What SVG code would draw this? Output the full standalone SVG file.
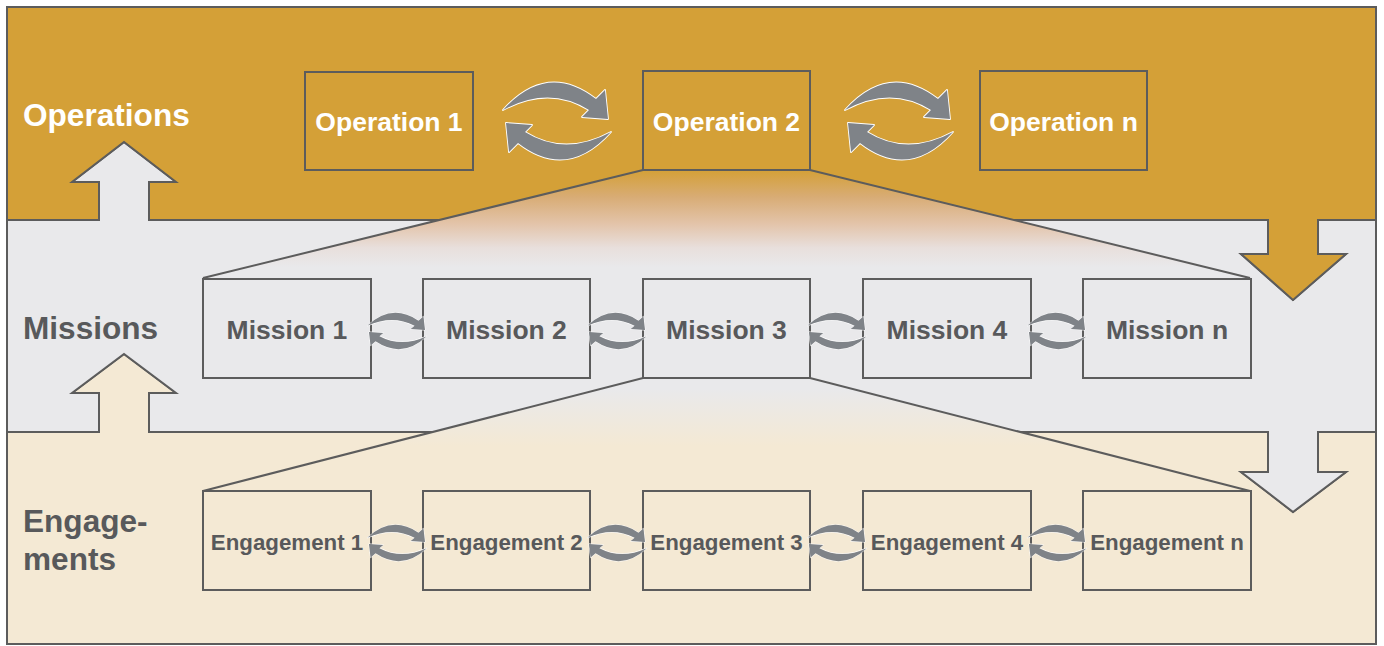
<svg xmlns="http://www.w3.org/2000/svg" width="1384" height="646" viewBox="0 0 1384 646">
  <style>
    .band { stroke: #5c5c5c; stroke-width: 2; stroke-linejoin: miter; }
    .ops { fill: #d4a037; }
    .mis { fill: #e9e9eb; }
    .eng { fill: #f4e9d4; }
    .box { stroke: #5c5c5c; stroke-width: 2; }
    .fan { stroke: #5c5c5c; stroke-width: 2; fill: none; }
    .lbl { font-family: "Liberation Sans", Arial, sans-serif; font-weight: bold; }
    .white { fill: #ffffff; }
    .grey { fill: #58595b; }
    .cyc { fill: #7f8388; stroke: #ffffff; stroke-width: 1.8; stroke-linejoin: round; paint-order: stroke; }
  </style>
  <defs>
    <linearGradient id="fadeTop" x1="0" y1="170" x2="0" y2="278" gradientUnits="userSpaceOnUse">
      <stop offset="0" stop-color="#d4a037"/>
      <stop offset="0.25" stop-color="#d8ac75"/>
      <stop offset="0.5" stop-color="#e3c4aa"/>
      <stop offset="0.72" stop-color="#e8dfdc"/>
      <stop offset="0.9" stop-color="#e9e9eb"/>
    </linearGradient>
    <linearGradient id="fadeBottom" x1="0" y1="378" x2="0" y2="491" gradientUnits="userSpaceOnUse">
      <stop offset="0.1" stop-color="#e9e9eb"/>
      <stop offset="0.6" stop-color="#f4e9d4"/>
    </linearGradient>
    <!-- one half of a cycle: curved arrow running clockwise over the top -->
    <path id="halfCycle" d="M -54,-11 Q -10,-60 39,-22 L 48,-31 L 51,-2 L 25,-4 L 32,-11 Q -8,-36 -54,-11 Z"/>
    <g id="cycle">
      <use href="#halfCycle" class="cyc"/>
      <use href="#halfCycle" class="cyc" transform="rotate(180)"/>
    </g>
  </defs>

  <!-- layer bands -->
  <g id="layer-engagements">
    <polygon class="band eng" points="7,432 99,432 99,393 72,393 124,354 176,393 149,393 149,432 1268,432 1268,472 1241,472 1293,512 1346,472 1318,472 1318,432 1376,432 1376,644 7,644"/>
  </g>
  <g id="layer-missions">
    <polygon class="band mis" points="7,220 99,220 99,182 72,182 124,142 176,182 149,182 149,220 1268,220 1268,254 1241,254 1293,300 1346,254 1318,254 1318,220 1376,220 1376,432 1318,432 1318,472 1346,472 1293,512 1241,472 1268,472 1268,432 149,432 149,393 176,393 124,354 72,393 99,393 99,432 7,432"/>
  </g>
  <g id="layer-operations">
    <polygon class="band ops" points="7,7 1376,7 1376,220 1318,220 1318,254 1346,254 1293,300 1241,254 1268,254 1268,220 149,220 149,182 176,182 124,142 72,182 99,182 99,220 7,220"/>
  </g>

  <!-- decomposition fans -->
  <g id="connectors">
    <polygon points="643,170 810,170 1250,278 203,278" fill="url(#fadeTop)"/>
    <polyline class="fan" points="203,278 643,170 810,170 1250,278"/>
    <polygon points="643,378 810,378 1250,491 203,491" fill="url(#fadeBottom)"/>
    <polyline class="fan" points="203,491 643,378 810,378 1250,491"/>
  </g>

  <!-- row titles -->
  <g id="title-operations"><text class="lbl white" x="23" y="126" font-size="31.6">Operations</text></g>
  <g id="title-missions"><text class="lbl grey" x="23" y="339" font-size="31.6">Missions</text></g>
  <g id="title-engagements">
    <text class="lbl grey" x="23" y="532" font-size="31.6">Engage-</text>
    <text class="lbl grey" x="23" y="570" font-size="31.6">ments</text>
  </g>

  <!-- operations -->
  <g id="operation-1"><rect class="box" x="305" y="72" width="168" height="98" fill="none"/><text class="lbl white" x="389" y="131" font-size="26.5" text-anchor="middle">Operation 1</text></g>
  <g id="operation-2"><rect class="box" x="643" y="71" width="167" height="99" fill="none"/><text class="lbl white" x="726.5" y="131" font-size="26.5" text-anchor="middle">Operation 2</text></g>
  <g id="operation-n"><rect class="box" x="980" y="71" width="167" height="99" fill="none"/><text class="lbl white" x="1063.5" y="131" font-size="26.5" text-anchor="middle">Operation n</text></g>

  <!-- missions -->
  <g id="mission-1"><rect class="box mis" x="203" y="279" width="168" height="99"/><text class="lbl grey" x="287" y="339" font-size="26.5" text-anchor="middle">Mission 1</text></g>
  <g id="mission-2"><rect class="box mis" x="423" y="279" width="167" height="99"/><text class="lbl grey" x="506.5" y="339" font-size="26.5" text-anchor="middle">Mission 2</text></g>
  <g id="mission-3"><rect class="box mis" x="643" y="279" width="167" height="99"/><text class="lbl grey" x="726.5" y="339" font-size="26.5" text-anchor="middle">Mission 3</text></g>
  <g id="mission-4"><rect class="box mis" x="863" y="279" width="168" height="99"/><text class="lbl grey" x="947" y="339" font-size="26.5" text-anchor="middle">Mission 4</text></g>
  <g id="mission-n"><rect class="box mis" x="1083" y="279" width="168" height="99"/><text class="lbl grey" x="1167" y="339" font-size="26.5" text-anchor="middle">Mission n</text></g>

  <!-- engagements -->
  <g id="engagement-1"><rect class="box eng" x="203" y="491" width="168" height="99"/><text class="lbl grey" x="287" y="550" font-size="22.3" text-anchor="middle">Engagement 1</text></g>
  <g id="engagement-2"><rect class="box eng" x="423" y="491" width="167" height="99"/><text class="lbl grey" x="506.5" y="550" font-size="22.3" text-anchor="middle">Engagement 2</text></g>
  <g id="engagement-3"><rect class="box eng" x="643" y="491" width="167" height="99"/><text class="lbl grey" x="726.5" y="550" font-size="22.3" text-anchor="middle">Engagement 3</text></g>
  <g id="engagement-4"><rect class="box eng" x="863" y="491" width="168" height="99"/><text class="lbl grey" x="947" y="550" font-size="22.3" text-anchor="middle">Engagement 4</text></g>
  <g id="engagement-n"><rect class="box eng" x="1083" y="491" width="168" height="99"/><text class="lbl grey" x="1167" y="550" font-size="22.3" text-anchor="middle">Engagement n</text></g>

  <!-- exchange cycles between neighbours -->
  <g id="cycles">
    <use href="#cycle" transform="translate(557,121)"/>
    <use href="#cycle" transform="translate(899,121)"/>
    <use href="#cycle" transform="translate(397,331) scale(0.55,0.47)"/>
    <use href="#cycle" transform="translate(617,331) scale(0.55,0.47)"/>
    <use href="#cycle" transform="translate(837,331) scale(0.55,0.47)"/>
    <use href="#cycle" transform="translate(1057,331) scale(0.55,0.47)"/>
    <use href="#cycle" transform="translate(397,543) scale(0.55,0.47)"/>
    <use href="#cycle" transform="translate(617,543) scale(0.55,0.47)"/>
    <use href="#cycle" transform="translate(837,543) scale(0.55,0.47)"/>
    <use href="#cycle" transform="translate(1057,543) scale(0.55,0.47)"/>
  </g>
</svg>
